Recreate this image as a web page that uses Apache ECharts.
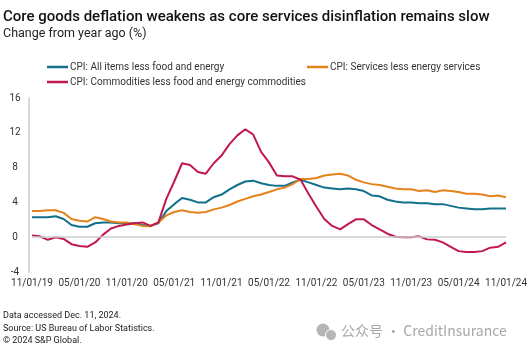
<!DOCTYPE html>
<html>
<head>
<meta charset="utf-8">
<script src="https://cdn.jsdelivr.net/npm/echarts@6/dist/echarts.min.js"></script>
<style>
  html, body { margin: 0; padding: 0; background: #fff; }
  #chart { width: 530px; height: 354px; }
</style>
</head>
<body>
<div id="chart"></div>
<script>
// monthly, Nov 2019 .. Nov 2024
const months = []
for (let y = 2019, m = 11; y < 2024 || (y === 2024 && m <= 11); m++) {
  if (m > 12) { m = 1; y++ }
  months.push(String(m).padStart(2, '0') + '/01/' + String(y).slice(2))
}

const seriesNames = [
  'CPI: All items less food and energy',
  'CPI: Services less energy services',
  'CPI: Commodities less food and energy commodities'
]

// YoY % change
const coreAll = [
  2.3, 2.3,
  2.3, 2.4, 2.1, 1.4, 1.2, 1.2, 1.6, 1.7, 1.7, 1.6, 1.6, 1.6,
  1.4, 1.3, 1.6, 3.0, 3.8, 4.5, 4.3, 4.0, 4.0, 4.6, 4.9, 5.5,
  6.0, 6.4, 6.5, 6.2, 6.0, 5.9, 5.9, 6.3, 6.6, 6.3, 6.0, 5.7,
  5.6, 5.5, 5.6, 5.5, 5.3, 4.8, 4.7, 4.3, 4.1, 4.0, 4.0, 3.9,
  3.9, 3.8, 3.8, 3.6, 3.4, 3.3, 3.2, 3.2, 3.3, 3.3, 3.3
]
const coreServices = [
  3.0, 3.0,
  3.1, 3.1, 2.8, 2.1, 1.9, 1.8, 2.3, 2.1, 1.8, 1.7, 1.7, 1.5,
  1.3, 1.25, 1.7, 2.5, 2.9, 3.1, 2.9, 2.8, 2.9, 3.2, 3.4, 3.7,
  4.1, 4.4, 4.7, 4.9, 5.2, 5.5, 5.7, 6.1, 6.7, 6.7, 6.8, 7.1,
  7.2, 7.3, 7.1, 6.6, 6.3, 6.1, 6.0, 5.8, 5.6, 5.5, 5.5, 5.3,
  5.4, 5.2, 5.4, 5.3, 5.2, 5.0, 5.0, 4.9, 4.7, 4.8, 4.6
]
const coreGoods = [
  0.2, 0.1,
  -0.3, 0.0, -0.2, -0.8, -1.0, -1.1, -0.6, 0.3, 1.0, 1.3, 1.45, 1.6,
  1.7, 1.3, 1.7, 4.4, 6.4, 8.5, 8.3, 7.5, 7.3, 8.5, 9.4, 10.7,
  11.7, 12.4, 11.8, 9.8, 8.6, 7.1, 7.0, 7.0, 6.6, 5.0, 3.5, 2.1,
  1.3, 0.9, 1.5, 2.05, 2.05, 1.4, 0.9, 0.4, 0.05, 0.0, 0.0, 0.1,
  -0.25, -0.3, -0.6, -1.1, -1.6, -1.7, -1.7, -1.6, -1.2, -1.1, -0.6
]

const colors = ['#13708c', '#e4821c', '#c1184d']
const font = 'Roboto, "Noto Sans", sans-serif'

const chart = echarts.init(document.getElementById('chart'))

function legendAt(name, left, top) {
  return {
    data: [name],
    left: left,
    top: top,
    icon: 'rect',
    itemWidth: 21,
    itemHeight: 2.5,
    padding: 0,
    selectedMode: false,
    textStyle: { color: '#333', fontSize: 10, fontFamily: font, padding: [0, 0, 0, -3] }
  }
}

chart.setOption({
  animation: false,
  color: colors,
  textStyle: { fontFamily: font },
  legend: [
    legendAt(seriesNames[0], 47, 62),
    legendAt(seriesNames[1], 307, 62),
    legendAt(seriesNames[2], 47, 77)
  ],
  grid: { left: 32, right: 23, top: 98, bottom: 82 },
  xAxis: {
    type: 'category',
    data: months,
    boundaryGap: false,
    axisLine: { show: false },
    axisTick: { show: false },
    axisLabel: { interval: 5, color: '#333', fontSize: 10, margin: 6, fontFamily: font }
  },
  yAxis: {
    type: 'value',
    min: -4,
    max: 16,
    interval: 4,
    offset: 3,
    axisLine: { show: true, lineStyle: { color: '#cccccc', width: 1.5 } },
    axisTick: { show: false },
    splitLine: { show: false },
    axisLabel: { color: '#333', fontSize: 10, align: 'center', margin: 14, fontFamily: font }
  },
  series: [
    {
      name: seriesNames[0], type: 'line', data: coreAll, showSymbol: false,
      lineStyle: { width: 2 }, z: 3,
      markLine: {
        silent: true, symbol: 'none', label: { show: false },
        lineStyle: { color: '#cccccc', type: 'solid', width: 1.5 },
        data: [{ yAxis: 0 }]
      }
    },
    { name: seriesNames[1], type: 'line', data: coreServices, showSymbol: false, lineStyle: { width: 2 }, z: 3 },
    { name: seriesNames[2], type: 'line', data: coreGoods, showSymbol: false, lineStyle: { width: 2 }, z: 4 }
  ],
  graphic: [
    { type: 'text', left: 3, top: 10, style: { text: 'Core goods deflation weakens as core services disinflation remains slow', fill: '#111', font: '500 15px ' + font } },
    { type: 'text', left: 3, top: 27, style: { text: 'Change from year ago (%)', fill: '#222', font: '12.5px ' + font } },
    { type: 'text', left: 3, top: 311, style: { text: 'Data accessed Dec. 11, 2024.', fill: '#222', font: '9px ' + font } },
    { type: 'text', left: 3, top: 324, style: { text: 'Source: US Bureau of Labor Statistics.', fill: '#222', font: '9px ' + font } },
    { type: 'text', left: 3, top: 336, style: { text: '\u00a9 2024 S&P Global.', fill: '#222', font: '9px ' + font } },
    { type: 'circle', shape: { cx: 323, cy: 330, r: 6.5 }, style: { fill: '#b5b5b5' } },
    { type: 'circle', shape: { cx: 331, cy: 335, r: 5.5 }, style: { fill: '#b5b5b5', stroke: '#fff', lineWidth: 1 } },
    { type: 'text', left: 341, top: 324, style: { text: '公众号 · CreditInsurance', fill: '#a8a8a8', font: '14px "Noto Sans CJK SC", ' + font } }
  ]
})
</script>
</body>
</html>
